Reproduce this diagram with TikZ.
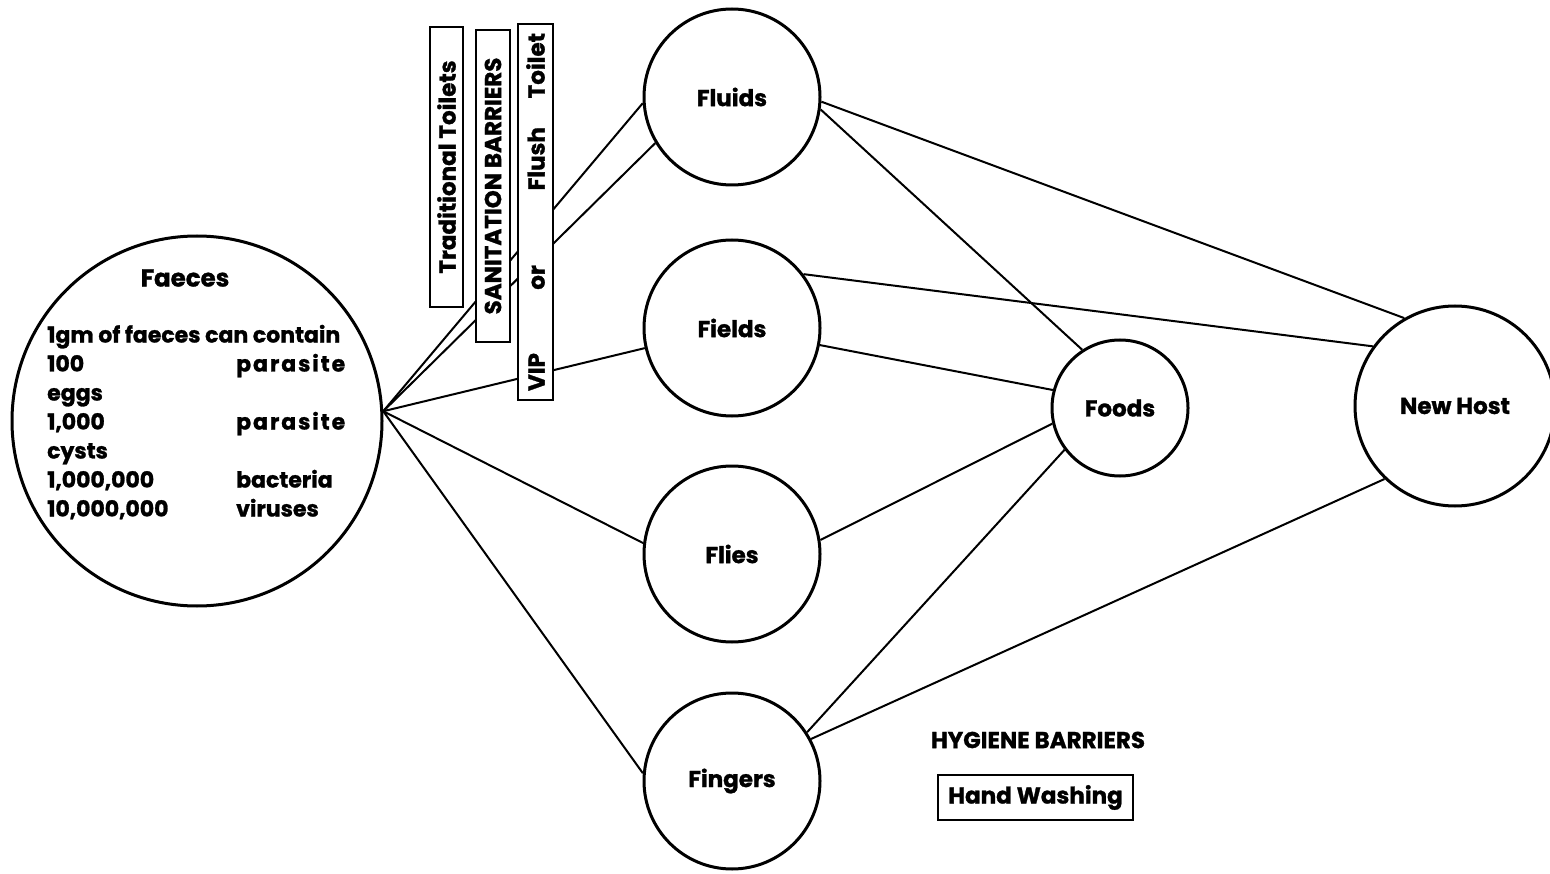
\documentclass[tikz,border=0pt]{standalone}
\usepackage{fontspec}
\setmainfont{Poppins}[BoldFeatures={FakeBold=1.2}]
\newcommand{\spreadword}[2]{\makebox[#1][s]{#2}}
\begin{document}
\begin{tikzpicture}[x=1pt,y=-1pt]
\tikzset{
 hub/.style={circle, draw, line width=3pt, fill=white, inner sep=0pt, font=\fontsize{23}{27}\selectfont\bfseries},
 link/.style={line width=2pt},
 vbox/.style={draw, line width=2.2pt, fill=white, rotate=90, inner sep=0pt, font=\fontsize{23}{27}\selectfont\bfseries},
 plain/.style={inner sep=0pt},
}
\useasboundingbox (0,0) rectangle (1550,874);
\node[hub, minimum size=370pt] (faeces) at (197,421) {};
\node[hub, minimum size=176pt] (fluids) at (732,97) {Fluids};
\node[hub, minimum size=176pt] (fields) at (732,328) {Fields};
\node[hub, minimum size=176pt] (flies) at (732,554) {Flies};
\node[hub, minimum size=176pt] (fingers) at (732,781) {Fingers};
\node[hub, minimum size=136pt] (foods) at (1120,408) {Foods};
\node[hub, minimum size=200pt] (newhost) at (1455,406) {New Host};
\coordinate (conv) at (faeces.3);

\draw[link] (conv) -- (fluids.184);
\draw[link] (conv) -- (fluids.211);
\draw[link] (conv) -- (fields.193);
\draw[link] (conv) -- (flies.173);
\draw[link] (conv) -- (fingers.175);
\draw[link] (fluids.-3) -- (newhost.120);
\draw[link] (fluids.-8) -- (foods.123);
\draw[link] (fields.37) -- (newhost.144);
\draw[link] (fields.-11) -- (foods.165);
\draw[link] (flies.9) -- (foods.193);
\draw[link] (fingers.33) -- (foods.217);
\draw[link] (fingers.28) -- (newhost.226);

\node[vbox, minimum width=280pt, minimum height=33pt] (trad) at (446.5,167) {Traditional Toilets};
\node[vbox, minimum width=312pt, minimum height=34pt] (sanit) at (493,186) {SANITATION BARRIERS};
\node[vbox, minimum width=376pt, minimum height=35pt] (vip) at (535.5,212) {\makebox[358pt][s]{VIP\hspace{0pt plus 55fil}or\hspace{0pt plus 65fil}Flush\hspace{0pt plus 25fil}Toilet}};

\node[plain, font=\fontsize{24.5}{28}\selectfont\bfseries] (ftitle) at (185,278) {Faeces};
\node[plain, anchor=north west, font=\fontsize{22}{29}\selectfont\bfseries] (fbody) at (47,322) {\begin{tabular}{@{}p{189pt}@{}l@{}}
\multicolumn{2}{@{}l@{}}{1gm of faeces can contain}\\
100 & \spreadword{109pt}{p\hfil a\hfil r\hfil a\hfil s\hfil i\hfil t\hfil e}\\
eggs & \\
1,000 & \spreadword{109pt}{p\hfil a\hfil r\hfil a\hfil s\hfil i\hfil t\hfil e}\\
cysts & \\
1,000,000 & bacteria\\
10,000,000 & viruses
\end{tabular}};

\node[plain, font=\fontsize{23}{27}\selectfont\bfseries] (hyg) at (1038,740) {HYGIENE BARRIERS};
\node[draw, line width=2.2pt, minimum width=195pt, minimum height=45pt, inner sep=0pt, font=\fontsize{23}{27}\selectfont\bfseries] (hand) at (1035.5,797.5) {Hand Washing};
\end{tikzpicture}
\end{document}
